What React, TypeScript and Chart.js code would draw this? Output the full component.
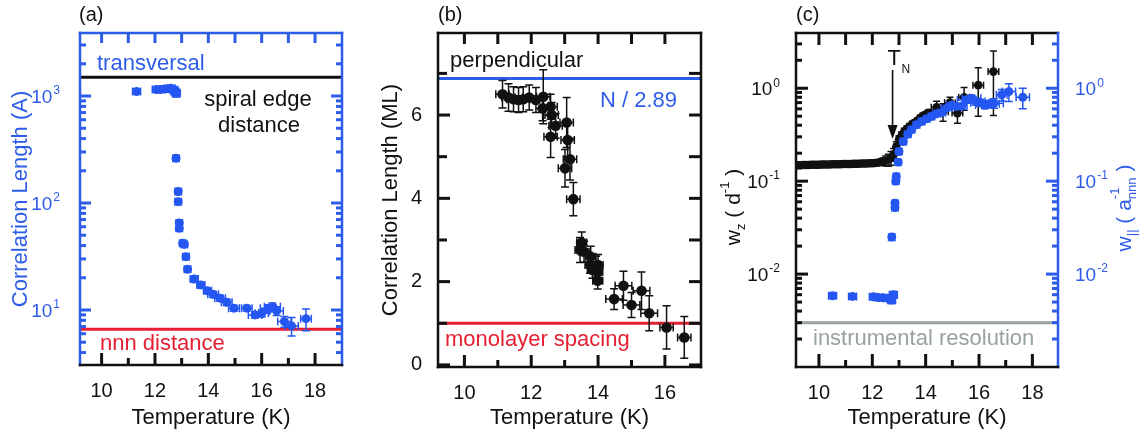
import React, { useEffect, useRef } from "react";
import { Chart, registerables } from "chart.js";

Chart.register(...registerables);

const FONT = "'Liberation Sans', Arial, Helvetica, sans-serif";
Chart.defaults.font.family = FONT;

const H = 436;
const BLUE_AXIS = "#2d5ce8";
const BLUE_PT = "#2456f2";
const RED = "#e61e32";
const GRAY = "#98a2a2";
const INK = "#111111";

// ---------------- Panel (a): transversal correlation length ----------------
const aTemp = [11.31, 12.05, 12.2, 12.35, 12.5, 12.6, 12.7, 12.75, 12.8, 12.79, 12.87, 12.87, 12.91, 12.91, 13.04, 13.1, 13.16, 13.22, 13.47, 13.72, 13.97, 14.18, 14.44, 14.69, 14.96, 15.44, 15.75, 16.0, 16.25, 16.4, 16.56, 16.85, 17.12, 17.66];
const aXi = [1100, 1150, 1150, 1160, 1170, 1180, 1150, 1100, 1060, 262, 128, 103, 65, 58, 42, 41, 31.5, 24, 19.5, 17.1, 15.1, 14.0, 12.9, 11.8, 10.4, 10.4, 9.0, 9.3, 10.4, 10.7, 9.8, 7.8, 7.1, 8.3];
const aXiErr = [60, 60, 60, 60, 60, 60, 60, 60, 80, 15, 8, 6, 4, 3.5, 2.5, 2.5, 2, 1.5, 1.2, 1.0, 0.9, 0.9, 0.8, 0.8, 0.6, 0.6, 0.6, 0.7, 0.8, 0.9, 0.9, 0.9, 1.4, 1.9];
const aTempErr = [0.15, 0.15, 0.15, 0.15, 0.15, 0.15, 0.15, 0.15, 0.15, 0.12, 0.12, 0.12, 0.12, 0.12, 0.12, 0.12, 0.12, 0.12, 0.15, 0.15, 0.15, 0.2, 0.2, 0.2, 0.2, 0.2, 0.25, 0.25, 0.3, 0.3, 0.25, 0.25, 0.25, 0.2];
const aXLabels = [10, 12, 14, 16, 18];
const aXMinor = [11, 13, 15, 17];
const aYExps = [1, 2, 3];
const aSpiralEdge = 1500;
const aNnn = 6.6;

// ---------------- Panel (b): perpendicular correlation length ----------------
const bTemp = [11.14, 11.32, 11.47, 11.62, 11.76, 11.94, 12.14, 12.36, 12.34, 12.58, 12.61, 12.58, 12.73, 13.06, 13.09, 13.16, 13.01, 13.26, 13.51, 13.46, 13.58, 13.78, 13.76, 13.83, 13.94, 14.0, 13.99, 13.99, 14.48, 14.76, 15.0, 15.3, 15.53, 16.05, 16.58];
const bXi = [6.50, 6.42, 6.38, 6.36, 6.38, 6.42, 6.36, 6.44, 6.16, 6.2, 6.0, 5.48, 5.74, 5.82, 5.4, 4.94, 4.72, 3.98, 2.94, 2.76, 2.72, 2.6, 2.4, 2.28, 2.36, 2.4, 2.24, 2.02, 1.58, 1.90, 1.44, 1.78, 1.24, 0.9, 0.66];
const bXiErr = [0.33, 0.33, 0.3, 0.3, 0.3, 0.3, 0.3, 0.65, 0.3, 0.3, 0.3, 0.5, 0.3, 0.6, 0.4, 0.5, 0.45, 0.4, 0.25, 0.3, 0.25, 0.25, 0.2, 0.2, 0.25, 0.25, 0.2, 0.2, 0.25, 0.35, 0.3, 0.45, 0.42, 0.52, 0.5];
const bTempErr = [0.2, 0.2, 0.2, 0.2, 0.2, 0.2, 0.2, 0.2, 0.2, 0.2, 0.2, 0.2, 0.2, 0.2, 0.2, 0.2, 0.2, 0.2, 0.15, 0.15, 0.15, 0.15, 0.15, 0.15, 0.15, 0.15, 0.15, 0.15, 0.25, 0.25, 0.25, 0.25, 0.25, 0.2, 0.2];
const bXLabels = [10, 12, 14, 16];
const bXMinor = [11, 13, 15];
const bYLabels = [0, 2, 4, 6];
const bYMinor = [1, 3, 5, 7];
const bPerp = 6.88;
const bMono = 1.0;

// ---------------- Panel (c): peak widths ----------------
const cBlackT = [9.2, 9.3, 9.4, 9.5, 9.6, 9.7, 9.8, 9.9, 10.0, 10.1, 10.2, 10.3, 10.4, 10.5, 10.6, 10.7, 10.8, 10.9, 11.0, 11.1, 11.2, 11.3, 11.4, 11.5, 11.6, 11.7, 11.8, 11.9, 12.0, 12.1, 12.2, 12.3, 12.4, 12.5, 12.6, 12.7, 12.8, 12.9, 13.0, 13.1, 13.2, 13.3, 13.4, 13.5, 13.6, 13.7, 13.8, 13.9, 14.0, 14.13, 14.41, 14.65, 14.91, 15.19, 15.44, 15.97, 16.54];
const cBlackW = [0.148, 0.148, 0.149, 0.149, 0.149, 0.150, 0.150, 0.150, 0.150, 0.151, 0.151, 0.151, 0.151, 0.152, 0.152, 0.152, 0.152, 0.153, 0.153, 0.153, 0.153, 0.154, 0.154, 0.154, 0.155, 0.155, 0.155, 0.156, 0.156, 0.157, 0.158, 0.160, 0.163, 0.166, 0.170, 0.178, 0.195, 0.235, 0.278, 0.31, 0.342, 0.365, 0.387, 0.41, 0.427, 0.45, 0.476, 0.50, 0.517, 0.54, 0.625, 0.56, 0.70, 0.54, 0.80, 1.08, 1.51];
const cBlackWErr = [0.008, 0.008, 0.008, 0.008, 0.008, 0.008, 0.008, 0.008, 0.008, 0.008, 0.008, 0.008, 0.008, 0.008, 0.008, 0.008, 0.008, 0.008, 0.008, 0.008, 0.008, 0.008, 0.008, 0.008, 0.008, 0.008, 0.008, 0.008, 0.008, 0.01, 0.01, 0.012, 0.015, 0.02, 0.025, 0.03, 0.03, 0.03, 0.03, 0.03, 0.03, 0.03, 0.03, 0.03, 0.03, 0.03, 0.04, 0.04, 0.04, 0.05, 0.1, 0.12, 0.1, 0.12, 0.22, 0.58, 1.0];
const cBlackTErr = [0.08, 0.08, 0.08, 0.08, 0.08, 0.08, 0.08, 0.08, 0.08, 0.08, 0.08, 0.08, 0.08, 0.08, 0.08, 0.08, 0.08, 0.08, 0.08, 0.08, 0.08, 0.08, 0.08, 0.08, 0.08, 0.08, 0.08, 0.08, 0.08, 0.08, 0.08, 0.08, 0.08, 0.1, 0.1, 0.1, 0.1, 0.1, 0.1, 0.1, 0.1, 0.1, 0.1, 0.1, 0.1, 0.1, 0.1, 0.1, 0.1, 0.15, 0.2, 0.2, 0.2, 0.2, 0.2, 0.2, 0.2];
const cBlueT = [10.51, 11.26, 12.04, 12.23, 12.41, 12.6, 12.72, 12.79, 12.73, 12.85, 12.85, 12.88, 12.9, 12.97, 13.0, 13.16, 13.33, 13.47, 13.66, 13.85, 14.04, 14.22, 14.41, 14.6, 14.79, 14.98, 15.16, 15.35, 15.54, 15.72, 15.88, 16.04, 16.22, 16.41, 16.56, 16.85, 17.12, 17.64];
const cBlueW = [0.00585, 0.00575, 0.0057, 0.0056, 0.00555, 0.0055, 0.0053, 0.006, 0.025, 0.052, 0.058, 0.100, 0.112, 0.16, 0.208, 0.267, 0.32, 0.358, 0.404, 0.438, 0.468, 0.496, 0.53, 0.547, 0.61, 0.66, 0.635, 0.64, 0.75, 0.78, 0.72, 0.70, 0.66, 0.68, 0.69, 0.85, 0.92, 0.80];
const cBlueWErr = [0.0004, 0.0004, 0.0004, 0.0004, 0.0004, 0.0004, 0.0005, 0.0005, 0.002, 0.004, 0.004, 0.007, 0.008, 0.01, 0.015, 0.02, 0.02, 0.02, 0.02, 0.025, 0.025, 0.025, 0.03, 0.03, 0.03, 0.04, 0.04, 0.04, 0.06, 0.06, 0.06, 0.06, 0.06, 0.06, 0.08, 0.12, 0.2, 0.2];
const cBlueTErr = [0.15, 0.15, 0.15, 0.15, 0.15, 0.15, 0.15, 0.15, 0.1, 0.1, 0.1, 0.1, 0.1, 0.1, 0.1, 0.12, 0.12, 0.12, 0.12, 0.12, 0.12, 0.12, 0.15, 0.15, 0.2, 0.2, 0.2, 0.2, 0.35, 0.35, 0.35, 0.35, 0.35, 0.35, 0.35, 0.2, 0.25, 0.25];
const cXLabels = [10, 12, 14, 16, 18];
const cXMinor = [11, 13, 15, 17];
const cYExps = [0, -1, -2];
const cResolution = 3.0e-3;
const cTN = 12.76;

// ---------------- helpers ----------------
const TICK_W = 3;

function pts(xs: number[], ys: number[]) {
  return xs.map((x, i) => ({ x, y: ys[i] }));
}

function logTickValues(min: number, max: number) {
  const major: number[] = [];
  const minor: number[] = [];
  for (let e = Math.floor(Math.log10(min)); e <= Math.ceil(Math.log10(max)); e++) {
    for (let k = 1; k <= 9; k++) {
      const v = k * Math.pow(10, e);
      if (v <= min * 1.0001 || v >= max * 0.9999) continue;
      (k === 1 ? major : minor).push(v);
    }
  }
  return { major, minor };
}

function strokeSegs(ctx: CanvasRenderingContext2D, segs: number[][], color: string, width: number) {
  ctx.save();
  ctx.setLineDash([]);
  ctx.strokeStyle = color;
  ctx.lineWidth = width;
  ctx.beginPath();
  for (const s of segs) {
    ctx.moveTo(s[0], s[1]);
    ctx.lineTo(s[2], s[3]);
  }
  ctx.stroke();
  ctx.restore();
}

function fillRects(ctx: CanvasRenderingContext2D, rects: number[][], color: string) {
  ctx.save();
  ctx.fillStyle = color;
  for (const r of rects) ctx.fillRect(r[0], r[1], r[2], r[3]);
  ctx.restore();
}

function drawFrame(chart: any, c: { left: string; right: string; top: string; bottom: string }) {
  const a = chart.chartArea;
  const ctx = chart.ctx;
  const w = 2.5;
  fillRects(ctx, [[a.left - w / 2, a.top - w / 2, a.right - a.left + w, w]], c.top);
  fillRects(ctx, [[a.left - w / 2, a.top - w / 2, w, a.bottom - a.top + w]], c.left);
  fillRects(ctx, [[a.right - w / 2, a.top - w / 2, w, a.bottom - a.top + w]], c.right);
  fillRects(ctx, [[a.left - w / 2, a.bottom - w / 2, a.right - a.left + w, w]], c.bottom);
}

// tick marks on the horizontal edges, pointing into the plot
function drawXTicks(chart: any, values: number[], len: number, side: string, color: string) {
  const a = chart.chartArea;
  const s = chart.scales.x;
  const rects: number[][] = [];
  for (const v of values) {
    const x = s.getPixelForValue(v);
    if (side === "top") rects.push([x - TICK_W / 2, a.top, TICK_W, len]);
    else rects.push([x - TICK_W / 2, a.bottom - len, TICK_W, len]);
  }
  fillRects(chart.ctx, rects, color);
}

// tick marks on the vertical edges, pointing into the plot
function drawYTicks(chart: any, values: number[], len: number, side: string, color: string) {
  const a = chart.chartArea;
  const s = chart.scales.y;
  const rects: number[][] = [];
  for (const v of values) {
    const y = s.getPixelForValue(v);
    if (side === "left") rects.push([a.left, y - TICK_W / 2, len, TICK_W]);
    else rects.push([a.right - len, y - TICK_W / 2, len, TICK_W]);
  }
  fillRects(chart.ctx, rects, color);
}

function hLine(chart: any, value: number, color: string, width: number) {
  const a = chart.chartArea;
  const y = chart.scales.y.getPixelForValue(value);
  strokeSegs(chart.ctx, [[a.left, y, a.right, y]], color, width);
}

function drawErrorBars(chart: any, xs: number[], ys: number[], xe: number[], ye: number[], color: string, cap = 4) {
  const ctx = chart.ctx;
  const sx = chart.scales.x;
  const sy = chart.scales.y;
  const a = chart.chartArea;
  const isLog = sy.type === "logarithmic";
  ctx.save();
  ctx.beginPath();
  ctx.rect(a.left, a.top, a.right - a.left, a.bottom - a.top);
  ctx.clip();
  ctx.strokeStyle = color;
  ctx.lineWidth = 1.5;
  ctx.beginPath();
  for (let i = 0; i < xs.length; i++) {
    const px = sx.getPixelForValue(xs[i]);
    const py = sy.getPixelForValue(ys[i]);
    const dy = ye[i] || 0;
    const dx = xe[i] || 0;
    if (dy > 0) {
      const hi = sy.getPixelForValue(ys[i] + dy);
      const loV = ys[i] - dy;
      const lo = isLog && loV <= 0 ? a.bottom : sy.getPixelForValue(loV);
      ctx.moveTo(px, hi); ctx.lineTo(px, lo);
      ctx.moveTo(px - cap, hi); ctx.lineTo(px + cap, hi);
      ctx.moveTo(px - cap, lo); ctx.lineTo(px + cap, lo);
    }
    if (dx > 0) {
      const l = sx.getPixelForValue(xs[i] - dx);
      const r = sx.getPixelForValue(xs[i] + dx);
      ctx.moveTo(l, py); ctx.lineTo(r, py);
      ctx.moveTo(l, py - cap); ctx.lineTo(l, py + cap);
      ctx.moveTo(r, py - cap); ctx.lineTo(r, py + cap);
    }
  }
  ctx.stroke();
  ctx.restore();
}

function text(ctx: CanvasRenderingContext2D, str: string, x: number, y: number, color: string, size: number, align: CanvasTextAlign = "left") {
  ctx.save();
  ctx.font = `${size}px ${FONT}`;
  ctx.fillStyle = color;
  ctx.textAlign = align;
  ctx.textBaseline = "alphabetic";
  ctx.fillText(str, x, y);
  ctx.restore();
}

// "10^exp" label, vertically centred on yc; align right => ends at x, left => starts at x
function powLabel(ctx: CanvasRenderingContext2D, exp: string, x: number, yc: number, align: string, color: string, size = 19) {
  const es = Math.round(size * 0.64);
  ctx.save();
  ctx.fillStyle = color;
  ctx.textBaseline = "alphabetic";
  ctx.textAlign = "left";
  ctx.font = `${size}px ${FONT}`;
  const bw = ctx.measureText("10").width;
  ctx.font = `${es}px ${FONT}`;
  const ew = ctx.measureText(exp).width;
  const x0 = align === "right" ? x - bw - ew - 1 : x;
  const base = yc + size * 0.36;
  ctx.font = `${size}px ${FONT}`;
  ctx.fillText("10", x0, base);
  ctx.font = `${es}px ${FONT}`;
  ctx.fillText(exp, x0 + bw + 1, base - size * 0.45);
  ctx.restore();
}

type Part = { t: string; s: number; dy?: number; stack?: boolean };
// text rotated to read bottom-to-top, baseline at screen x = xb, centred on yc
function vText(ctx: CanvasRenderingContext2D, parts: Part[], xb: number, yc: number, color: string) {
  ctx.save();
  ctx.fillStyle = color;
  ctx.textBaseline = "alphabetic";
  ctx.textAlign = "left";
  const widths = parts.map((p) => {
    ctx.font = `${p.s}px ${FONT}`;
    return ctx.measureText(p.t).width;
  });
  let total = 0;
  let pending = 0;
  parts.forEach((p, i) => {
    if (p.stack) pending = Math.max(pending, widths[i]);
    else {
      total += Math.max(pending, widths[i]);
      pending = 0;
    }
  });
  ctx.translate(xb, yc);
  ctx.rotate(-Math.PI / 2);
  let x = -total / 2;
  pending = 0;
  parts.forEach((p, i) => {
    ctx.font = `${p.s}px ${FONT}`;
    ctx.fillText(p.t, x, p.dy || 0);
    if (p.stack) pending = Math.max(pending, widths[i]);
    else {
      x += Math.max(pending, widths[i]);
      pending = 0;
    }
  });
  ctx.restore();
}

function xScaleOpts(min: number, max: number, labels: number[], height: number) {
  return {
    type: "linear",
    min,
    max,
    grid: { display: false, drawTicks: false },
    border: { display: false },
    afterBuildTicks: (s: any) => {
      s.ticks = labels.map((v) => ({ value: v }));
    },
    afterFit: (s: any) => {
      s.height = height;
    },
    ticks: { color: INK, font: { size: 20 }, padding: 14, maxRotation: 0, autoSkip: false },
    title: { display: true, text: "Temperature (K)", color: INK, font: { size: 22 }, padding: { top: 0, bottom: 5 } },
  };
}

const baseOptions = {
  animation: false,
  responsive: false,
  devicePixelRatio: 1,
  events: [],
  plugins: { legend: { display: false }, tooltip: { enabled: false } },
};

// ---------------- Panel builders ----------------
function makeA() {
  const yMin = 3.06;
  const yMax = 3882;
  const decor = {
    id: "decorA",
    beforeDatasetsDraw(chart: any) {
      hLine(chart, aSpiralEdge, INK, 3);
      hLine(chart, aNnn, RED, 3);
      drawErrorBars(chart, aTemp, aXi, aTempErr, aXiErr, BLUE_PT);
    },
    afterDraw(chart: any) {
      const ctx = chart.ctx;
      const sy = chart.scales.y;
      const lt = logTickValues(yMin, yMax);
      drawYTicks(chart, lt.major, 11, "left", BLUE_AXIS);
      drawYTicks(chart, lt.minor, 6, "left", BLUE_AXIS);
      drawYTicks(chart, lt.major, 11, "right", BLUE_AXIS);
      drawYTicks(chart, lt.minor, 6, "right", BLUE_AXIS);
      drawXTicks(chart, aXLabels.concat(aXMinor), 10, "top", BLUE_AXIS);
      drawXTicks(chart, aXLabels, 12, "bottom", INK);
      drawXTicks(chart, aXMinor, 7, "bottom", INK);
      drawFrame(chart, { left: BLUE_AXIS, right: BLUE_AXIS, top: BLUE_AXIS, bottom: INK });
      aYExps.forEach((e) => powLabel(ctx, String(e), 60, sy.getPixelForValue(Math.pow(10, e)), "right", BLUE_AXIS));
      text(ctx, "(a)", 79, 21, INK, 20);
      text(ctx, "transversal", 97, 70, BLUE_AXIS, 22);
      text(ctx, "spiral edge", 258, 106, INK, 22, "center");
      text(ctx, "distance", 259, 132, INK, 22, "center");
      text(ctx, "nnn distance", 100, 350, RED, 22);
    },
  };
  return {
    type: "scatter",
    data: {
      datasets: [
        { data: pts(aTemp, aXi), backgroundColor: BLUE_PT, borderColor: BLUE_PT, pointRadius: 4.5, pointBorderWidth: 0 },
      ],
    },
    options: {
      ...baseOptions,
      layout: { padding: { top: 33, right: 28, bottom: 0, left: 0 } },
      scales: {
        x: xScaleOpts(9.19, 19.01, aXLabels, H - 365),
        y: {
          type: "logarithmic",
          min: yMin,
          max: yMax,
          grid: { display: false, drawTicks: false },
          border: { display: false },
          ticks: { display: false },
          afterFit: (s: any) => {
            s.width = 80;
          },
          title: { display: true, text: "Correlation Length (A)", color: BLUE_AXIS, font: { size: 22 }, padding: { top: 8, bottom: 0 } },
        },
      },
    },
    plugins: [decor],
  };
}

function makeB() {
  const decor = {
    id: "decorB",
    beforeDatasetsDraw(chart: any) {
      hLine(chart, bPerp, BLUE_AXIS, 3);
      hLine(chart, bMono, RED, 3);
      drawErrorBars(chart, bTemp, bXi, bTempErr, bXiErr, INK);
    },
    afterDraw(chart: any) {
      const ctx = chart.ctx;
      drawYTicks(chart, bYLabels, 12, "left", INK);
      drawYTicks(chart, bYMinor, 9, "left", INK);
      drawYTicks(chart, bYLabels.concat(bYMinor), 12, "right", INK);
      drawXTicks(chart, bXLabels.concat(bXMinor), 11, "top", INK);
      drawXTicks(chart, bXLabels, 12, "bottom", INK);
      drawXTicks(chart, bXMinor, 7, "bottom", INK);
      drawFrame(chart, { left: INK, right: INK, top: INK, bottom: INK });
      text(ctx, "(b)", 68, 21, INK, 20);
      text(ctx, "perpendicular", 80, 67, INK, 22);
      text(ctx, "N / 2.89", 230, 107, BLUE_AXIS, 22);
      text(ctx, "monolayer spacing", 75, 346, RED, 22);
    },
  };
  return {
    type: "scatter",
    data: {
      datasets: [{ data: pts(bTemp, bXi), backgroundColor: INK, borderColor: INK, pointRadius: 5.3, pointBorderWidth: 0 }],
    },
    options: {
      ...baseOptions,
      layout: { padding: { top: 33, right: 9, bottom: 0, left: 0 } },
      scales: {
        x: xScaleOpts(9.21, 17.08, bXLabels, H - 367),
        y: {
          type: "linear",
          min: -0.05,
          max: 7.97,
          grid: { display: false, drawTicks: false },
          border: { display: false },
          afterBuildTicks: (s: any) => {
            s.ticks = bYLabels.map((v) => ({ value: v }));
          },
          afterFit: (s: any) => {
            s.width = 68;
          },
          ticks: { color: INK, font: { size: 20 }, padding: 16 },
          title: { display: true, text: "Correlation Length (ML)", color: INK, font: { size: 22 }, padding: { top: 8, bottom: 0 } },
        },
      },
    },
    plugins: [decor],
  };
}

function makeC() {
  const yMin = 0.001;
  const yMax = 3.93;
  const decor = {
    id: "decorC",
    beforeDatasetsDraw(chart: any) {
      hLine(chart, cResolution, GRAY, 3);
    },
    beforeDatasetDraw(chart: any, args: any) {
      if (args.index === 0) drawErrorBars(chart, cBlackT, cBlackW, cBlackTErr, cBlackWErr, INK, 3.5);
      else drawErrorBars(chart, cBlueT, cBlueW, cBlueTErr, cBlueWErr, BLUE_PT, 4);
    },
    afterDraw(chart: any) {
      const ctx = chart.ctx;
      const sy = chart.scales.y;
      const sx = chart.scales.x;
      const lt = logTickValues(yMin, yMax);
      drawYTicks(chart, lt.major, 12, "left", INK);
      drawYTicks(chart, lt.minor, 6, "left", INK);
      drawYTicks(chart, lt.major, 12, "right", BLUE_AXIS);
      drawYTicks(chart, lt.minor, 6, "right", BLUE_AXIS);
      drawXTicks(chart, cXLabels.concat(cXMinor), 12, "top", INK);
      drawXTicks(chart, cXLabels, 13, "bottom", INK);
      drawXTicks(chart, cXMinor, 7, "bottom", INK);
      drawFrame(chart, { left: INK, right: BLUE_AXIS, top: INK, bottom: INK });
      const a = chart.chartArea;
      cYExps.forEach((e) => {
        const y = sy.getPixelForValue(Math.pow(10, e));
        powLabel(ctx, String(e), a.left - 16, y, "right", INK);
        powLabel(ctx, String(e), a.right + 17, y, "left", BLUE_AXIS);
      });
      text(ctx, "(c)", 86, 21, INK, 20);
      text(ctx, "instrumental resolution", 103, 345, GRAY, 22);
      // T_N arrow
      const xa = sx.getPixelForValue(cTN);
      text(ctx, "T", xa - 5, 65, INK, 22);
      text(ctx, "N", xa + 9, 73, INK, 12);
      strokeSegs(ctx, [[xa, 70, xa, 128]], INK, 1.6);
      ctx.save();
      ctx.fillStyle = INK;
      ctx.beginPath();
      ctx.moveTo(xa, 139);
      ctx.lineTo(xa - 5, 125);
      ctx.lineTo(xa + 5, 125);
      ctx.closePath();
      ctx.fill();
      ctx.restore();
      // axis titles
      vText(
        ctx,
        [
          { t: "w", s: 21 },
          { t: "z", s: 13, dy: 5 },
          { t: " ( d", s: 21 },
          { t: "-1", s: 13, dy: -11 },
          { t: " )", s: 21 },
        ],
        30,
        207,
        INK
      );
      vText(
        ctx,
        [
          { t: "w", s: 21 },
          { t: "||", s: 13, dy: 5 },
          { t: " ( a", s: 21 },
          { t: "nnn", s: 13, dy: 5, stack: true },
          { t: "-1", s: 13, dy: -12 },
          { t: " )", s: 21 },
        ],
        421,
        208,
        BLUE_AXIS
      );
    },
  };
  return {
    type: "scatter",
    data: {
      datasets: [
        { data: pts(cBlackT, cBlackW), backgroundColor: INK, borderColor: INK, pointRadius: 4.3, pointBorderWidth: 0, order: 2 },
        { data: pts(cBlueT, cBlueW), backgroundColor: BLUE_PT, borderColor: BLUE_PT, pointRadius: 4.5, pointBorderWidth: 0, order: 1 },
      ],
    },
    options: {
      ...baseOptions,
      layout: { padding: { top: 33, right: 82, bottom: 0, left: 0 } },
      scales: {
        x: xScaleOpts(9.14, 18.96, cXLabels, H - 367),
        y: {
          type: "logarithmic",
          min: yMin,
          max: yMax,
          grid: { display: false, drawTicks: false },
          border: { display: false },
          ticks: { display: false },
          afterFit: (s: any) => {
            s.width = 86;
          },
          title: { display: false },
        },
      },
    },
    plugins: [decor],
  };
}

function Panel({ left, width, make }: { left: number; width: number; make: () => any }) {
  const ref = useRef<HTMLCanvasElement>(null);
  useEffect(() => {
    const chart = new Chart(ref.current as HTMLCanvasElement, make());
    return () => chart.destroy();
  }, []);
  return (
    <canvas
      ref={ref}
      width={width}
      height={H}
      style={{ position: "absolute", left, top: 0, width, height: H }}
    />
  );
}

export default function App() {
  return (
    <div style={{ position: "absolute", left: 0, top: 0, width: 1140, height: H, background: "#ffffff", overflow: "hidden" }}>
      <Panel left={0} width={370} make={makeA} />
      <Panel left={370} width={340} make={makeB} />
      <Panel left={710} width={430} make={makeC} />
    </div>
  );
}
